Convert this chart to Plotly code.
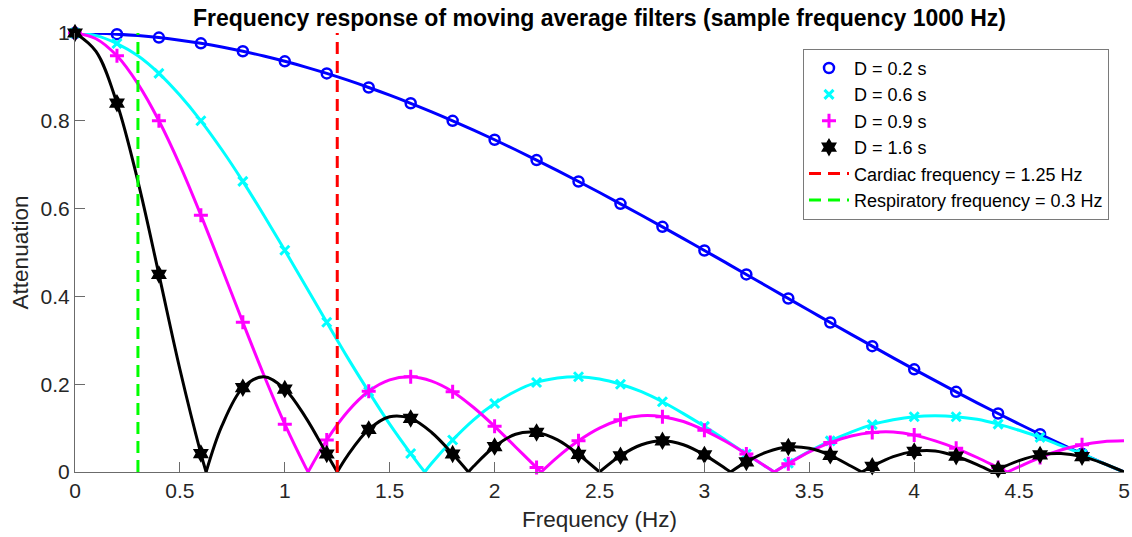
import plotly.graph_objects as go

# ---------------- data ----------------
f_d02 = [0.0, 0.1, 0.2, 0.3, 0.4, 0.5, 0.6, 0.7, 0.8, 0.9, 1.0, 1.1, 1.2, 1.3, 1.4, 1.5, 1.6,
         1.7, 1.8, 1.9, 2.0, 2.1, 2.2, 2.3, 2.4, 2.5, 2.6, 2.7, 2.8, 2.9, 3.0, 3.1, 3.2, 3.3,
         3.4, 3.5, 3.6, 3.7, 3.8, 3.9, 4.0, 4.1, 4.2, 4.3, 4.4, 4.5, 4.6, 4.7, 4.8, 4.9, 5.0]
a_d02 = [1.0, 0.9993, 0.9974, 0.9941, 0.9895, 0.9836, 0.9765, 0.9681, 0.9584, 0.9476, 0.9355,
         0.9223, 0.9079, 0.8925, 0.8759, 0.8584, 0.8399, 0.8204, 0.8000, 0.7788, 0.7568, 0.7341,
         0.7106, 0.6865, 0.6618, 0.6366, 0.6109, 0.5848, 0.5584, 0.5316, 0.5046, 0.4774, 0.4500,
         0.4226, 0.3952, 0.3679, 0.3406, 0.3136, 0.2867, 0.2601, 0.2339, 0.2080, 0.1826, 0.1576,
         0.1332, 0.1093, 0.0860, 0.0635, 0.0416, 0.0204, 0.0]

f_d06 = [0.0, 0.1, 0.2, 0.3, 0.4, 0.5, 0.6, 0.7, 0.8, 0.9, 1.0, 1.1, 1.2, 1.3, 1.4, 1.5, 1.6, 1.667,
         1.7, 1.8, 1.9, 2.0, 2.1, 2.2, 2.3, 2.4, 2.5, 2.6, 2.7, 2.8, 2.9, 3.0, 3.1, 3.2, 3.3, 3.333,
         3.4, 3.5, 3.6, 3.7, 3.8, 3.9, 4.0, 4.1, 4.2, 4.3, 4.4, 4.5, 4.6, 4.7, 4.8, 4.9, 5.0]
a_d06 = [1.0, 0.994, 0.976, 0.948, 0.908, 0.858, 0.800, 0.734, 0.662, 0.585, 0.505, 0.423, 0.341,
         0.260, 0.183, 0.109, 0.042, 0.0,
         0.020, 0.073, 0.119, 0.156, 0.184, 0.204, 0.214, 0.217, 0.212, 0.200, 0.183, 0.160, 0.133,
         0.104, 0.073, 0.041, 0.010, 0.0,
         0.020, 0.047, 0.071, 0.091, 0.108, 0.119, 0.126, 0.128, 0.126, 0.120, 0.109, 0.095, 0.079,
         0.060, 0.041, 0.020, 0.0]

f_d09 = [0.0, 0.1, 0.2, 0.3, 0.4, 0.5, 0.6, 0.7, 0.8, 0.9, 1.0, 1.1, 1.111,
         1.2, 1.3, 1.4, 1.5, 1.6, 1.7, 1.8, 1.9, 2.0, 2.1, 2.2, 2.222,
         2.3, 2.4, 2.5, 2.6, 2.7, 2.8, 2.9, 3.0, 3.1, 3.2, 3.3, 3.333,
         3.4, 3.5, 3.6, 3.7, 3.8, 3.9, 4.0, 4.1, 4.2, 4.3, 4.4, 4.444,
         4.5, 4.6, 4.7, 4.8, 4.9, 5.0]
a_d09 = [1.0, 0.987, 0.948, 0.884, 0.800, 0.699, 0.585, 0.464, 0.341, 0.221, 0.109, 0.010, 0.0,
         0.073, 0.138, 0.184, 0.210, 0.217, 0.207, 0.183, 0.147, 0.104, 0.057, 0.010, 0.0,
         0.034, 0.071, 0.100, 0.119, 0.128, 0.126, 0.115, 0.095, 0.070, 0.041, 0.010, 0.0,
         0.019, 0.046, 0.067, 0.082, 0.090, 0.091, 0.084, 0.071, 0.054, 0.033, 0.010, 0.0,
         0.012, 0.033, 0.050, 0.062, 0.069, 0.071]

f_d16 = [0.0, 0.1, 0.2, 0.3, 0.4, 0.5, 0.6, 0.625, 0.7, 0.8, 0.9, 1.0, 1.1, 1.2, 1.25,
         1.3, 1.4, 1.5, 1.6, 1.7, 1.8, 1.875, 1.9, 2.0, 2.1, 2.2, 2.3, 2.4, 2.5,
         2.6, 2.7, 2.8, 2.9, 3.0, 3.1, 3.125, 3.2, 3.3, 3.4, 3.5, 3.6, 3.7, 3.75,
         3.8, 3.9, 4.0, 4.1, 4.2, 4.3, 4.375, 4.4, 4.5, 4.6, 4.7, 4.8, 4.9, 5.0]
a_d16 = [1.0, 0.958, 0.840, 0.662, 0.450, 0.234, 0.042, 0.0, 0.105, 0.192, 0.217, 0.189, 0.124,
         0.041, 0.0, 0.038, 0.097, 0.126, 0.122, 0.090, 0.041, 0.0, 0.013, 0.058, 0.086, 0.090,
         0.073, 0.040, 0.0, 0.037, 0.062, 0.071, 0.062, 0.039, 0.008, 0.0, 0.023, 0.046, 0.057,
         0.054, 0.038, 0.013, 0.0, 0.013, 0.035, 0.047, 0.048, 0.036, 0.017, 0.0, 0.006, 0.026,
         0.039, 0.042, 0.035, 0.020, 0.0]

series_names = ["D = 0.2 s", "D = 0.6 s", "D = 0.9 s", "D = 1.6 s"]
cardiac_freq = 1.25
resp_freq = 0.3
marker_step = 0.2
marker_max = 4.8

# ---------------- helpers ----------------
def split_at_zeros(xs, ys):
    X, Y = [], []
    n = len(xs)
    for i, (x, y) in enumerate(zip(xs, ys)):
        X.append(x)
        Y.append(y)
        if y == 0 and 0 < i < n - 1:
            X += [None, x]
            Y += [None, y]
    return X, Y


def marker_points(xs, ys):
    mx, my = [], []
    for x, y in zip(xs, ys):
        r = x / marker_step
        if abs(r - round(r)) < 1e-6 and x <= marker_max + 1e-9:
            mx.append(x)
            my.append(y)
    return mx, my


FONT = "Liberation Sans, Arial, Helvetica, sans-serif"
TXT = "#262626"

styles = [
    dict(color="#0000FF", symbol="circle-open", size=10, lw=2.5),
    dict(color="#00FFFF", symbol="x-thin", size=9, lw=3),
    dict(color="#FF00FF", symbol="cross-thin", size=10, lw=3),
    dict(color="#000000", symbol="hexagram", size=14, lw=0),
]

fig = go.Figure()
data = [(f_d02, a_d02), (f_d06, a_d06), (f_d09, a_d09), (f_d16, a_d16)]

for (xs, ys), name, st in zip(data, series_names, styles):
    X, Y = split_at_zeros(xs, ys)
    fig.add_trace(go.Scatter(
        x=X, y=Y, mode="lines", line=dict(color=st["color"], width=3, shape="spline", smoothing=1),
        connectgaps=False, showlegend=False, hoverinfo="skip"))
    mx, my = marker_points(xs, ys)
    mk = dict(symbol=st["symbol"], size=st["size"], color=st["color"])
    if st["lw"]:
        mk["line"] = dict(color=st["color"], width=st["lw"])
    else:
        mk["line"] = dict(width=0)
    fig.add_trace(go.Scatter(x=mx, y=my, mode="markers", marker=mk, name=name,
                             cliponaxis=False))

fig.add_trace(go.Scatter(x=[cardiac_freq, cardiac_freq], y=[0, 1], mode="lines",
                         line=dict(color="#FF0000", width=3, dash="12px,7px"),
                         name="Cardiac frequency = 1.25 Hz"))
fig.add_trace(go.Scatter(x=[resp_freq, resp_freq], y=[0, 1], mode="lines",
                         line=dict(color="#00FF00", width=3, dash="12px,7px"),
                         name="Respiratory frequency = 0.3 Hz"))

axis_common = dict(
    showgrid=False, zeroline=False, showline=True, linecolor="#6b6b6b", linewidth=1,
    ticks="inside", ticklen=10, tickwidth=1, tickcolor="#6b6b6b", mirror=False,
    automargin=False,
    tickfont=dict(family=FONT, size=21, color=TXT),
)

fig.update_layout(
    width=1132, height=537,
    margin=dict(l=75, r=8, t=33, b=65),
    paper_bgcolor="white", plot_bgcolor="white",
    font=dict(family=FONT, color=TXT),
    title=dict(text="Frequency response of moving average filters (sample frequency 1000 Hz)",
               font=dict(family=FONT, size=23, color="#000000", weight="bold"),
               x=0.5, xref="paper", xanchor="center", y=1 - 18 / 537, yref="container",
               yanchor="middle"),
    xaxis=dict(range=[0, 5], dtick=0.5, tick0=0,
               title=dict(text="Frequency (Hz)", font=dict(family=FONT, size=22.5, color=TXT), standoff=10),
               **axis_common),
    yaxis=dict(range=[0, 1], dtick=0.2, tick0=0,
               title=dict(text="Attenuation", font=dict(family=FONT, size=22.5, color=TXT), standoff=5),
               **axis_common),
    legend=dict(x=0.9857, xanchor="right", y=0.964, yanchor="top",
                bgcolor="white", bordercolor="#7a7a7a", borderwidth=1,
                font=dict(family=FONT, size=18, color="#000000"),
                tracegroupgap=0, itemwidth=40),
)

fig.write_html("out.html")
